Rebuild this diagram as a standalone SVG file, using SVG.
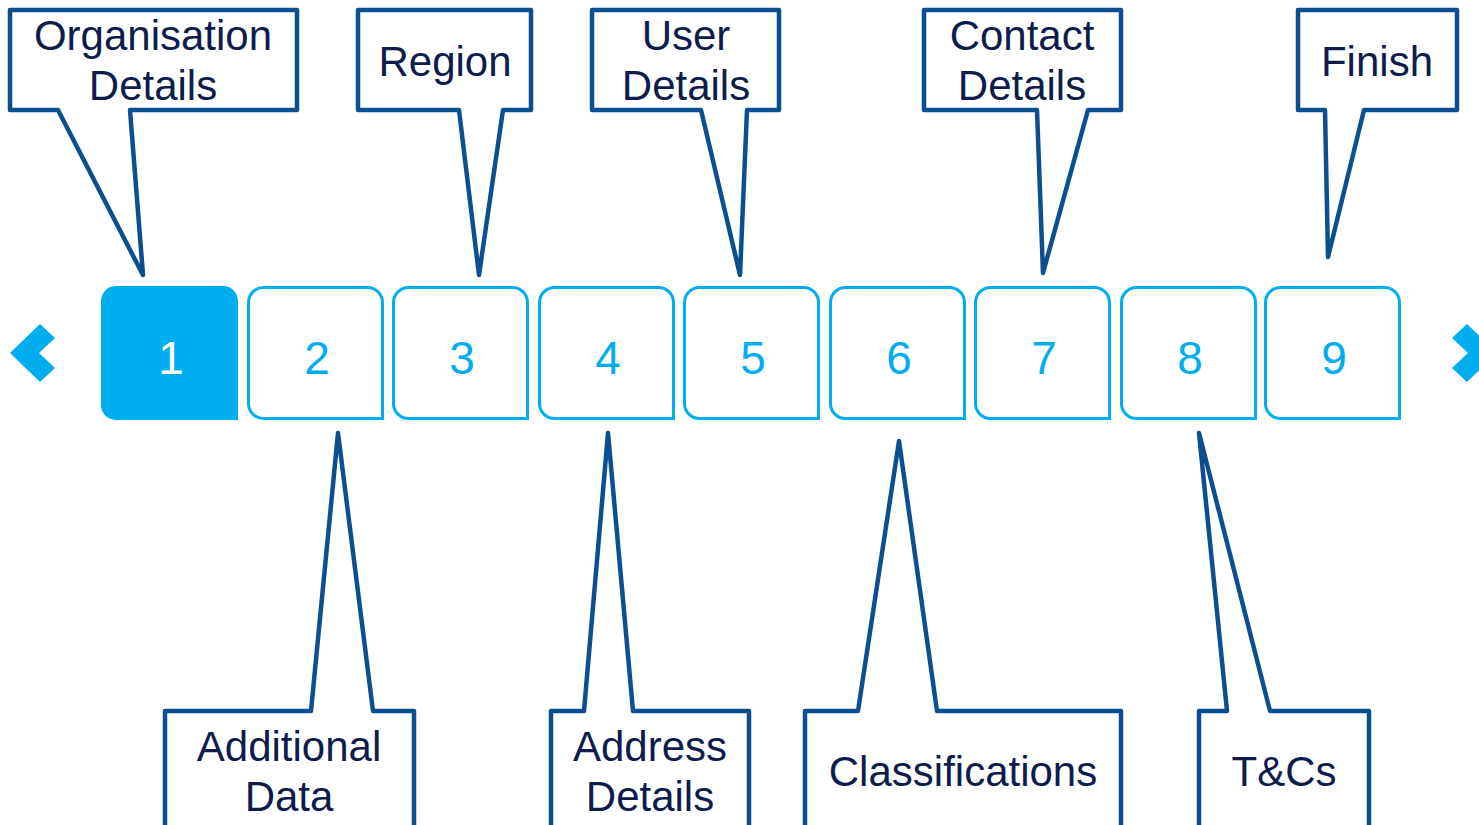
<svg xmlns="http://www.w3.org/2000/svg" xmlns:xlink="http://www.w3.org/1999/xlink" width="1479" height="825" viewBox="0 0 1479 825">
<style>
.callout{fill:#fff;stroke:#0B4F91;stroke-width:4.5;stroke-linejoin:round}
.lbl{font-family:"Liberation Sans",Arial,sans-serif;font-size:42px;fill:#0D1B4D;text-anchor:middle}
.step{fill:#fff;stroke:#00AEEF;stroke-width:3}
.num{font-family:"Liberation Sans",Arial,sans-serif;font-size:46px;fill:#00AEEF;text-anchor:middle}
.chev{fill:#00AEEF}
</style>
<defs>
<path id="stepbox" d="M1.5,16.5 A15,15 0 0 1 16.5,1.5 H120.5 A15,15 0 0 1 135.5,16.5 V132.5 H16.5 A15,15 0 0 1 1.5,117.5 Z"/>
</defs>
<rect width="1479" height="825" fill="#fff"/>
<g id="nav-prev"><polygon class="chev" points="40,324 55,338 39,353 55,368 40,382 10,353"/></g>
<g id="nav-next"><polygon class="chev" points="1467,324 1452,338 1468,353 1452,368 1467,382 1497,353"/></g>
<g id="step1"><path d="M101,301 A15,15 0 0 1 116,286 H223 A15,15 0 0 1 238,301 V420 H116 A15,15 0 0 1 101,405 Z" fill="#00AEEF"/><text class="num" x="171" y="374" fill="#fff" style="fill:#fff">1</text></g>
<g id="step2"><use href="#stepbox" class="step" transform="translate(247,286)"/><text class="num" x="317" y="374">2</text></g>
<g id="step3"><use href="#stepbox" class="step" transform="translate(392,286)"/><text class="num" x="462" y="374">3</text></g>
<g id="step4"><use href="#stepbox" class="step" transform="translate(538,286)"/><text class="num" x="608" y="374">4</text></g>
<g id="step5"><use href="#stepbox" class="step" transform="translate(683,286)"/><text class="num" x="753" y="374">5</text></g>
<g id="step6"><use href="#stepbox" class="step" transform="translate(829,286)"/><text class="num" x="899" y="374">6</text></g>
<g id="step7"><use href="#stepbox" class="step" transform="translate(974,286)"/><text class="num" x="1044" y="374">7</text></g>
<g id="step8"><use href="#stepbox" class="step" transform="translate(1120,286)"/><text class="num" x="1190" y="374">8</text></g>
<g id="step9"><use href="#stepbox" class="step" transform="translate(1264,286)"/><text class="num" x="1334" y="374">9</text></g>
<g id="connectors"></g>
<g id="callout-organisation"><path class="callout" d="M10,10 H297 V110 H130 L143,275 L58,110 H10 Z"/><text class="lbl" x="153" y="50">Organisation</text><text class="lbl" x="153" y="100">Details</text></g>
<g id="callout-region"><path class="callout" d="M358,10 H531 V110 H503 L479,275 L459,110 H358 Z"/><text class="lbl" x="445" y="76">Region</text></g>
<g id="callout-user"><path class="callout" d="M592,10 H779 V110 H747 L740,275 L701,110 H592 Z"/><text class="lbl" x="686" y="50">User</text><text class="lbl" x="686" y="100">Details</text></g>
<g id="callout-contact"><path class="callout" d="M924,10 H1121 V110 H1088 L1043,273 L1037,110 H924 Z"/><text class="lbl" x="1022" y="50">Contact</text><text class="lbl" x="1022" y="100">Details</text></g>
<g id="callout-finish"><path class="callout" d="M1298,10 H1457 V110 H1364 L1328,257 L1325,110 H1298 Z"/><text class="lbl" x="1377" y="76">Finish</text></g>
<g id="callout-additional"><path class="callout" d="M165,711 H311 L338,433 L373,711 H414 V835 H165 Z"/><text class="lbl" x="289" y="761">Additional</text><text class="lbl" x="289" y="811">Data</text></g>
<g id="callout-address"><path class="callout" d="M551,711 H584 L608,433 L633,711 H749 V835 H551 Z"/><text class="lbl" x="650" y="761">Address</text><text class="lbl" x="650" y="811">Details</text></g>
<g id="callout-classifications"><path class="callout" d="M805,711 H858 L899,441 L937,711 H1121 V835 H805 Z"/><text class="lbl" x="963" y="786">Classifications</text></g>
<g id="callout-tcs"><path class="callout" d="M1199,711 H1227 L1199,433 L1270,711 H1369 V835 H1199 Z"/><text class="lbl" x="1284" y="786">T&amp;Cs</text></g>
</svg>
